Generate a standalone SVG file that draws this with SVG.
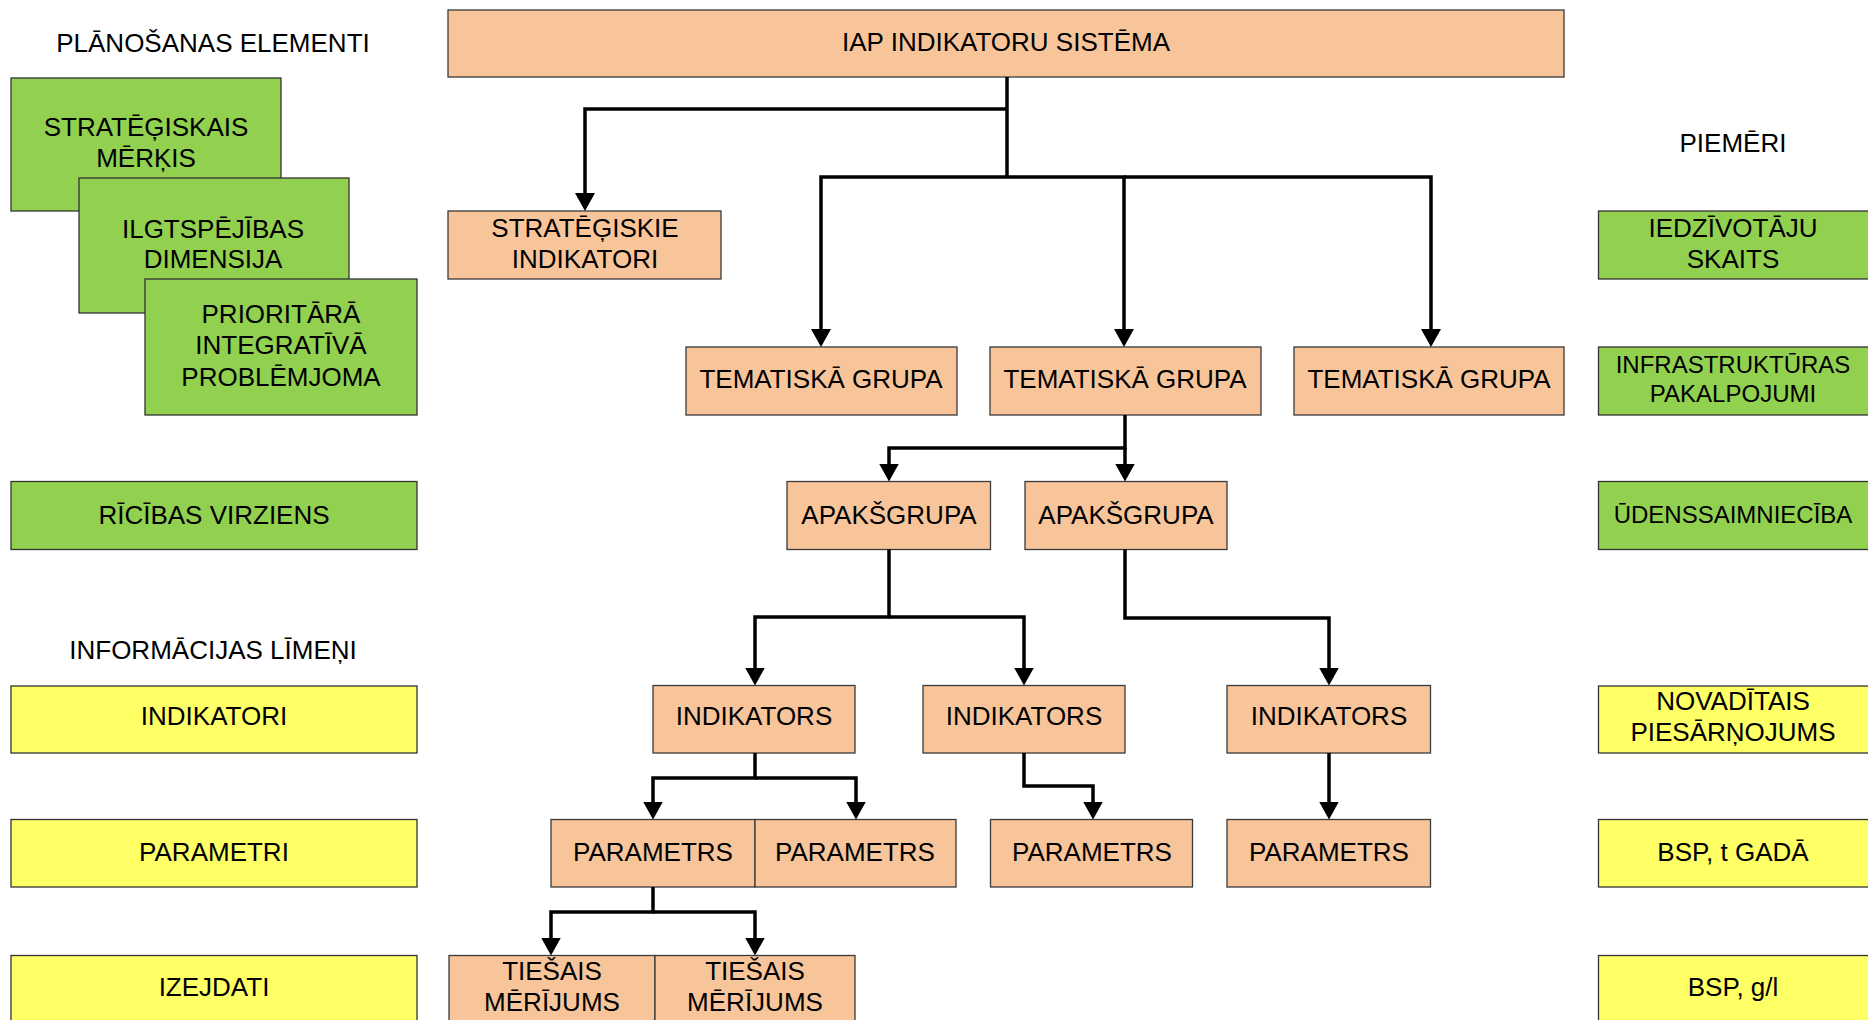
<svg xmlns="http://www.w3.org/2000/svg" width="1868" height="1020" viewBox="0 0 1868 1020">
<defs>
<style>
.o{fill:#F8C59B;stroke:#3a3a3a;stroke-width:1.3}
.g{fill:#92D050;stroke:#333;stroke-width:1.3}
.y{fill:#FFFF66;stroke:#333;stroke-width:1.3}
text{font-family:"Liberation Sans",Arial,sans-serif;font-size:26px;fill:#000;text-anchor:middle}
.s{font-size:24px}
.c path{fill:none;stroke:#000;stroke-width:3.5;stroke-linejoin:miter}
</style>
<marker id="ah" viewBox="0 0 18 20" refX="8" refY="10" markerWidth="18" markerHeight="20" markerUnits="userSpaceOnUse" orient="auto">
<path d="M0,0 L18,10 L0,20 Z" fill="#000"/>
</marker>
</defs>
<rect width="1868" height="1020" fill="#fff"/>

<text x="213" y="52">PLĀNOŠANAS ELEMENTI</text>
<text x="1733" y="152">PIEMĒRI</text>
<text x="213" y="659">INFORMĀCIJAS LĪMEŅI</text>

<g id="stratmerkis"><rect class="g" x="11" y="78" width="270" height="133"/><text x="146" y="136">STRATĒĢISKAIS</text><text x="146" y="167">MĒRĶIS</text></g>
<g id="ilgtspejiba"><rect class="g" x="79" y="178" width="270" height="135"/><text x="213" y="238">ILGTSPĒJĪBAS</text><text x="213" y="268">DIMENSIJA</text></g>
<g id="prioritara"><rect class="g" x="145" y="279" width="272" height="136"/><text x="281" y="323">PRIORITĀRĀ</text><text x="281" y="354">INTEGRATĪVĀ</text><text x="281" y="386">PROBLĒMJOMA</text></g>
<g id="ricibas"><rect class="g" x="11" y="481.5" width="406" height="68"/><text x="214" y="524">RĪCĪBAS VIRZIENS</text></g>
<g id="l-indikatori"><rect class="y" x="11" y="686" width="406" height="67"/><text x="214" y="725">INDIKATORI</text></g>
<g id="l-parametri"><rect class="y" x="11" y="819.5" width="406" height="67.5"/><text x="214" y="861">PARAMETRI</text></g>
<g id="l-izejdati"><rect class="y" x="11" y="955.5" width="406" height="80"/><text x="214" y="996">IZEJDATI</text></g>

<g id="iap"><rect class="o" x="448" y="10" width="1116" height="67"/><text x="1006" y="51">IAP INDIKATORU SISTĒMA</text></g>
<g id="stratind"><rect class="o" x="448" y="211" width="273" height="68"/><text x="585" y="237">STRATĒĢISKIE</text><text x="585" y="268">INDIKATORI</text></g>
<g id="tema1"><rect class="o" x="686" y="347" width="271" height="68"/><text x="821" y="388">TEMATISKĀ GRUPA</text></g>
<g id="tema2"><rect class="o" x="990" y="347" width="271" height="68"/><text x="1125" y="388">TEMATISKĀ GRUPA</text></g>
<g id="tema3"><rect class="o" x="1294" y="347" width="270" height="68"/><text x="1429" y="388">TEMATISKĀ GRUPA</text></g>
<g id="apak1"><rect class="o" x="787" y="481.5" width="203.5" height="68"/><text x="889" y="524">APAKŠGRUPA</text></g>
<g id="apak2"><rect class="o" x="1025" y="481.5" width="202" height="68"/><text x="1126" y="524">APAKŠGRUPA</text></g>
<g id="ind1"><rect class="o" x="653" y="685.5" width="202" height="67.5"/><text x="754" y="725">INDIKATORS</text></g>
<g id="ind2"><rect class="o" x="923" y="685.5" width="202" height="67.5"/><text x="1024" y="725">INDIKATORS</text></g>
<g id="ind3"><rect class="o" x="1227" y="685.5" width="203.5" height="67.5"/><text x="1329" y="725">INDIKATORS</text></g>
<g id="par1"><rect class="o" x="551" y="819.5" width="204" height="67.5"/><text x="653" y="861">PARAMETRS</text></g>
<g id="par2"><rect class="o" x="755" y="819.5" width="201" height="67.5"/><text x="855" y="861">PARAMETRS</text></g>
<g id="par3"><rect class="o" x="990.5" y="819.5" width="202" height="67.5"/><text x="1092" y="861">PARAMETRS</text></g>
<g id="par4"><rect class="o" x="1227" y="819.5" width="203.5" height="67.5"/><text x="1329" y="861">PARAMETRS</text></g>
<g id="ties1"><rect class="o" x="449" y="955.5" width="206" height="80"/><text x="552" y="980">TIEŠAIS</text><text x="552" y="1011">MĒRĪJUMS</text></g>
<g id="ties2"><rect class="o" x="655" y="955.5" width="200" height="80"/><text x="755" y="980">TIEŠAIS</text><text x="755" y="1011">MĒRĪJUMS</text></g>

<g id="ex1"><rect class="g" x="1598.5" y="211" width="280" height="68"/><text x="1733" y="237">IEDZĪVOTĀJU</text><text x="1733" y="268">SKAITS</text></g>
<g id="ex2"><rect class="g" x="1598.5" y="347" width="280" height="68"/><text class="s" x="1733" y="373">INFRASTRUKTŪRAS</text><text class="s" x="1733" y="402">PAKALPOJUMI</text></g>
<g id="ex3"><rect class="g" x="1598.5" y="481.5" width="280" height="68"/><text class="s" x="1733" y="523">ŪDENSSAIMNIECĪBA</text></g>
<g id="ex4"><rect class="y" x="1598.5" y="686" width="280" height="67"/><text x="1733" y="710">NOVADĪTAIS</text><text x="1733" y="741">PIESĀRŅOJUMS</text></g>
<g id="ex5"><rect class="y" x="1598.5" y="819.5" width="280" height="67.5"/><text x="1733" y="861">BSP, t GADĀ</text></g>
<g id="ex6"><rect class="y" x="1598.5" y="955.5" width="280" height="80"/><text x="1733" y="996">BSP, g/l</text></g>

<g id="connectors" class="c">
<path d="M1007,77 V177"/>
<path d="M1007,109 H585 V201" marker-end="url(#ah)"/>
<path d="M1007,177 H821 V337" marker-end="url(#ah)"/>
<path d="M1007,177 H1124 V337" marker-end="url(#ah)"/>
<path d="M1124,177 H1431 V337" marker-end="url(#ah)"/>
<path d="M1125,415 V448 H889 V471.5" marker-end="url(#ah)"/>
<path d="M1125,448 V471.5" marker-end="url(#ah)"/>
<path d="M889,549.5 V617 H755 V675.5" marker-end="url(#ah)"/>
<path d="M889,617 H1024 V675.5" marker-end="url(#ah)"/>
<path d="M1125,549.5 V618 H1329 V675.5" marker-end="url(#ah)"/>
<path d="M755,753 V778 H653 V809.5" marker-end="url(#ah)"/>
<path d="M755,778 H856 V809.5" marker-end="url(#ah)"/>
<path d="M1024,753 V786 H1093 V809.5" marker-end="url(#ah)"/>
<path d="M1329,753 V809.5" marker-end="url(#ah)"/>
<path d="M653,887 V912 H551 V945.5" marker-end="url(#ah)"/>
<path d="M653,912 H755 V945.5" marker-end="url(#ah)"/>
</g>
</svg>
